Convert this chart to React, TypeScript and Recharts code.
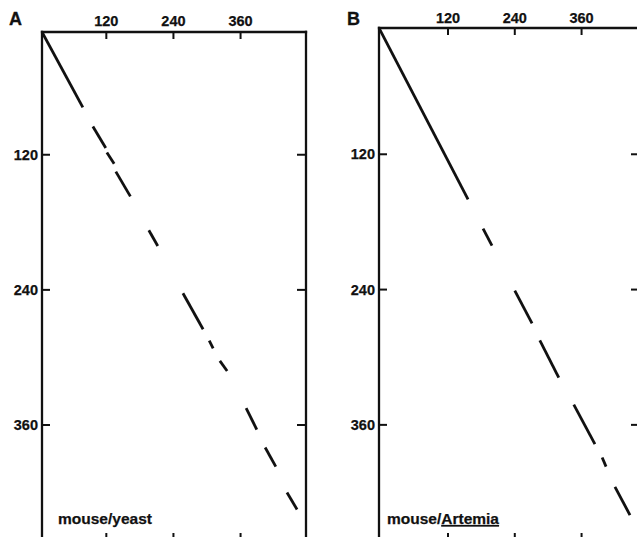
import React from 'react';
import { LineChart, Line, XAxis, YAxis } from 'recharts';

// Tick labels shared by both dot-matrix panels
const xTicks = [120, 240, 360];
const yTicks = [120, 240, 360];

// Panel A (mouse/yeast): matching diagonal segments [x1, y1, x2, y2]
const segmentsA: number[][] = [
  [5, 11, 78, 78],
  [96, 95, 119, 114],
  [121, 118, 134, 128],
  [137, 135, 163, 157],
  [196, 187, 212, 201],
  [257, 243, 293, 275],
  [304, 285, 311, 292],
  [323, 303, 336, 312],
  [370, 345, 389, 364],
  [404, 380, 423, 397],
  [443, 420, 461, 435],
];

// Panel B (mouse/Artemia): matching diagonal segments [x1, y1, x2, y2]
const segmentsB: number[][] = [
  [-4, 8, 156, 160],
  [183, 186, 199, 201],
  [240, 241, 271, 270],
  [285, 285, 319, 318],
  [346, 342, 384, 377],
  [397, 389, 404, 397],
  [420, 415, 447, 440],
];

const domainAX: [number, number] = [5, 477];
const domainAY: [number, number] = [11, 463];
const domainBX: [number, number] = [-4, 465];
const domainBY: [number, number] = [8, 463];

const INK = '#111';
const FONT = '"Liberation Sans", Arial, Helvetica, sans-serif';

const axisLineStyle = { stroke: INK, strokeWidth: 2.3, strokeLinecap: 'square' as const };

const labelProps = {
  fontFamily: FONT,
  fontWeight: 'bold' as const,
  fontSize: 14.5,
  fill: INK,
  stroke: INK,
  strokeWidth: 0.25,
};

function TopTick(props: any) {
  const { x, y, payload, gap } = props;
  return (
    <g>
      <line x1={x} y1={y} x2={x} y2={y + 7} stroke={INK} strokeWidth={2} />
      <text x={x} y={y - gap} textAnchor="middle" {...labelProps}>
        {payload.value}
      </text>
    </g>
  );
}

function BottomTick(props: any) {
  const { x, y } = props;
  return <line x1={x} y1={y} x2={x} y2={y - 8} stroke={INK} strokeWidth={2} />;
}

function LeftTick(props: any) {
  const { x, y, payload } = props;
  return (
    <g>
      <line x1={x} y1={y} x2={x + 8} y2={y} stroke={INK} strokeWidth={2} />
      <text x={x - 4} y={y + 5} textAnchor="end" {...labelProps}>
        {payload.value}
      </text>
    </g>
  );
}

function RightTick(props: any) {
  const { x, y } = props;
  return <line x1={x} y1={y} x2={x - 9} y2={y} stroke={INK} strokeWidth={2} />;
}

function Panel(props: {
  segments: number[][];
  domainX: [number, number];
  domainY: [number, number];
  width: number;
  height: number;
  margin: { top: number; right: number; bottom: number; left: number };
  topGap: number;
  prefix: string;
}) {
  const { segments, domainX, domainY, width, height, margin, topGap, prefix } = props;
  return (
    <LineChart width={width} height={height} margin={margin}>
      <XAxis
        xAxisId="top"
        orientation="top"
        type="number"
        dataKey="x"
        domain={domainX}
        allowDataOverflow
        ticks={xTicks}
        interval={0}
        height={1}
        tickSize={0}
        tickMargin={0}
        tickLine={false}
        axisLine={axisLineStyle}
        tick={(p: any) => <TopTick {...p} gap={topGap} />}
      />
      <XAxis
        xAxisId="bottom"
        orientation="bottom"
        type="number"
        dataKey="x"
        domain={domainX}
        allowDataOverflow
        ticks={xTicks}
        interval={0}
        height={1}
        tickSize={0}
        tickMargin={0}
        tickLine={false}
        axisLine={axisLineStyle}
        tick={(p: any) => <BottomTick {...p} />}
      />
      <YAxis
        yAxisId="left"
        orientation="left"
        type="number"
        domain={domainY}
        reversed
        allowDataOverflow
        ticks={yTicks}
        interval={0}
        width={1}
        tickSize={0}
        tickMargin={0}
        tickLine={false}
        axisLine={axisLineStyle}
        tick={(p: any) => <LeftTick {...p} />}
      />
      <YAxis
        yAxisId="right"
        orientation="right"
        type="number"
        domain={domainY}
        reversed
        allowDataOverflow
        ticks={yTicks}
        interval={0}
        width={1}
        tickSize={0}
        tickMargin={0}
        tickLine={false}
        axisLine={axisLineStyle}
        tick={(p: any) => <RightTick {...p} />}
      />
      {segments.map((s, i) => (
        <Line
          key={prefix + i}
          name={prefix + i}
          data={[
            { x: s[0], y: s[1] },
            { x: s[2], y: s[3] },
          ]}
          dataKey="y"
          xAxisId="top"
          yAxisId="left"
          type="linear"
          stroke={INK}
          strokeWidth={2.8}
          dot={false}
          activeDot={false}
          isAnimationActive={false}
        />
      ))}
    </LineChart>
  );
}

export default function App() {
  return (
    <div
      style={{
        position: 'absolute',
        left: 0,
        top: 0,
        width: 637,
        height: 537,
        overflow: 'hidden',
        background: '#fff',
      }}
    >
      <div style={{ position: 'absolute', left: 0, top: 0 }}>
        <Panel
          segments={segmentsA}
          domainX={domainAX}
          domainY={domainAY}
          width={320}
          height={560}
          margin={{ top: 31, right: 13, bottom: 18, left: 41 }}
          topGap={6}
          prefix="a"
        />
      </div>
      <div style={{ position: 'absolute', left: 320, top: 0 }}>
        <Panel
          segments={segmentsB}
          domainX={domainBX}
          domainY={domainBY}
          width={340}
          height={560}
          margin={{ top: 27, right: 19, bottom: 18, left: 58 }}
          topGap={5}
          prefix="b"
        />
      </div>
      <svg
        width={637}
        height={537}
        style={{ position: 'absolute', left: 0, top: 0, pointerEvents: 'none' }}
      >
        <text x={9} y={25} fontFamily={FONT} fontWeight="bold" fontSize={18} fill={INK} stroke={INK} strokeWidth={0.3}>A</text>
        <text x={347} y={25} fontFamily={FONT} fontWeight="bold" fontSize={18} fill={INK} stroke={INK} strokeWidth={0.3}>B</text>
        <text x={58} y={524} fontFamily={FONT} fontWeight="bold" fontSize={15.5} fill={INK} stroke={INK} strokeWidth={0.25}>mouse/yeast</text>
        <text x={387} y={524} fontFamily={FONT} fontWeight="bold" fontSize={15.5} fill={INK} stroke={INK} strokeWidth={0.25}>
          mouse/<tspan style={{ textDecoration: 'underline' }}>Artemia</tspan>
        </text>
      </svg>
    </div>
  );
}
